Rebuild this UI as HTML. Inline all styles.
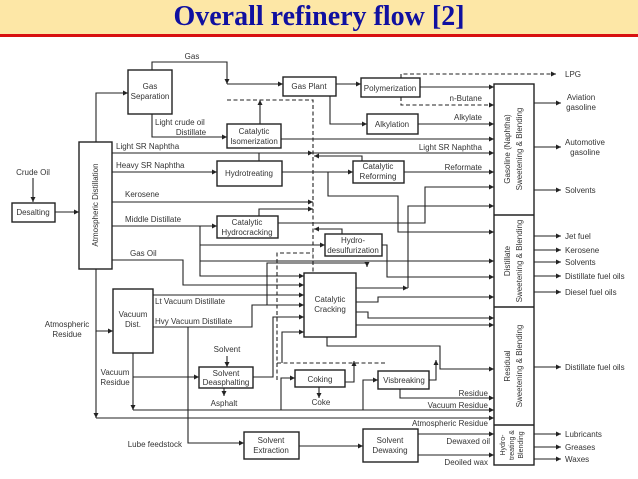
<!DOCTYPE html>
<html><head><meta charset="utf-8"><style>
html,body{margin:0;padding:0;background:#fff;}
body{width:638px;height:479px;overflow:hidden;position:relative;}
.hdr{position:absolute;left:0;top:0;width:638px;height:34px;background:#fde7a6;}
.hdr .t{position:absolute;left:0;width:638px;top:1px;text-align:center;font-family:"Liberation Serif",serif;font-weight:bold;font-size:28px;color:#1010a0;}
.red{position:absolute;left:0;top:34px;width:638px;height:3px;background:#d81010;}
svg{position:absolute;left:0;top:0;}
text{font-family:"Liberation Sans",sans-serif;font-size:8px;fill:#333;}
</style></head><body>
<div class="hdr"><div class="t">Overall refinery flow [2]</div></div>
<div class="red"></div>
<svg width="638" height="479" viewBox="0 0 638 479">
<defs><marker id="a" markerWidth="6" markerHeight="6" refX="5" refY="3" orient="auto" markerUnits="userSpaceOnUse"><path d="M0,0.5 L5,3 L0,5.5z" fill="#222"/></marker></defs>
<g fill="none" stroke="#222" stroke-width="1.1">
<rect x="128" y="70" width="44" height="44" stroke-width="1.4"/>
<rect x="283" y="77" width="53" height="19" stroke-width="1.4"/>
<rect x="361" y="78" width="59" height="19" stroke-width="1.4"/>
<rect x="367" y="114" width="51" height="20" stroke-width="1.4"/>
<rect x="227" y="124" width="54" height="24" stroke-width="1.4"/>
<rect x="217" y="161" width="65" height="25" stroke-width="1.4"/>
<rect x="353" y="161" width="51" height="22" stroke-width="1.4"/>
<rect x="217" y="216" width="61" height="22" stroke-width="1.4"/>
<rect x="325" y="234" width="57" height="22" stroke-width="1.4"/>
<rect x="304" y="273" width="52" height="64" stroke-width="1.4"/>
<rect x="79" y="142" width="33" height="127" stroke-width="1.4"/>
<rect x="12" y="203" width="43" height="19" stroke-width="1.4"/>
<rect x="113" y="289" width="40" height="64" stroke-width="1.4"/>
<rect x="199" y="367" width="54" height="21" stroke-width="1.4"/>
<rect x="295" y="370" width="50" height="17" stroke-width="1.4"/>
<rect x="378" y="371" width="51" height="18" stroke-width="1.4"/>
<rect x="244" y="432" width="55" height="27" stroke-width="1.4"/>
<rect x="363" y="429" width="55" height="33" stroke-width="1.4"/>
<rect x="494" y="84" width="40" height="381" stroke-width="1.4"/>
<line x1="494" y1="215" x2="534" y2="215" stroke-width="1.4"/>
<line x1="494" y1="307" x2="534" y2="307" stroke-width="1.4"/>
<line x1="494" y1="425" x2="534" y2="425" stroke-width="1.4"/>
</g>
<g fill="none" stroke="#222" stroke-width="1.1" marker-end="url(#a)">
<path d="M33,178 V202"/>
<path d="M55,212 H79"/>
<path d="M96,142 V93 H128"/>
<path d="M152,70 V62 H227 V84"/>
<path d="M227,84 H283"/>
<path d="M152,114 V137 H227"/>
<path d="M260,124 V100"/>
<path d="M336,84 H361"/>
<path d="M420,87 H494"/>
<path d="M330,96 V124 H367"/>
<path d="M418,124 H494"/>
<path d="M281,139 H494"/>
<path d="M112,153 H494"/>
<path d="M112,172 H217"/>
<path d="M259,161 V153 H313"/>
<path d="M282,172 H353"/>
<path d="M362,161 V156 H314"/>
<path d="M404,172 H494"/>
<path d="M328,172 V196 H398 V232 H494"/>
<path d="M112,202 H313"/>
<path d="M278,223 H425 V187 H494"/>
<path d="M408,288 V206 H494"/>
<path d="M112,226 H217"/>
<path d="M200,226 V276 H304"/>
<path d="M200,245 H325"/>
<path d="M259,216 V209 H313"/>
<path d="M342,234 V229 H314"/>
<path d="M200,261 H494"/>
<path d="M382,245 H387 V277 H494"/>
<path d="M112,260 H183 V285 H304"/>
<path d="M153,295 H304"/>
<path d="M153,327 H252 V305 H304"/>
<path d="M267,305 V263 H367 V267"/>
<path d="M253,377 H273 V317 H304"/>
<path d="M356,288 H408"/>
<path d="M356,302 H378 V297 H494"/>
<path d="M356,312 H368 V318 H494"/>
<path d="M356,325 H494"/>
<path d="M327,337 V346 H440 V369 H494"/>
<path d="M282,363 V332 H304"/>
<path d="M96,269 V331 H113"/>
<path d="M96,331 V418"/>
<path d="M96,418 H494"/>
<path d="M133,353 V410"/>
<path d="M133,377 H199"/>
<path d="M133,410 H494"/>
<path d="M227,356 V367"/>
<path d="M224,388 V396"/>
<path d="M188,327 V443 H244"/>
<path d="M299,446 H363"/>
<path d="M418,434 H494"/>
<path d="M418,455 H494"/>
<path d="M281,410 V378 H295"/>
<path d="M319,387 V398"/>
<path d="M363,410 V380 H378"/>
<path d="M400,389 V398 H494"/>
<path d="M345,382 H354 V361"/>
<path d="M429,380 H436 V360"/>
<path d="M534,103 H561"/>
<path d="M534,147 H561"/>
<path d="M534,190 H561"/>
<path d="M534,236 H561"/>
<path d="M534,250 H561"/>
<path d="M534,262 H561"/>
<path d="M534,276 H561"/>
<path d="M534,292 H561"/>
<path d="M534,367 H561"/>
<path d="M534,434 H561"/>
<path d="M534,447 H561"/>
<path d="M534,459 H561"/>
</g>
<g fill="none" stroke="#222" stroke-width="1.1" stroke-dasharray="4,2.5">
<path d="M227,100 H313 V273"/>
<path d="M401,78 V74 H556" marker-end="url(#a)"/>
<path d="M401,97 V105 H494" marker-end="url(#a)"/>
<path d="M277,380 V253 H313"/>
<path d="M277,363 H387"/>
</g>
<g>
<text x="192" y="59" text-anchor="middle">Gas</text>
<text x="150" y="89" text-anchor="middle">Gas</text>
<text x="150" y="99" text-anchor="middle">Separation</text>
<text x="309" y="89" text-anchor="middle">Gas Plant</text>
<text x="390" y="91" text-anchor="middle">Polymerization</text>
<text x="392" y="127" text-anchor="middle">Alkylation</text>
<text x="254" y="134" text-anchor="middle">Catalytic</text>
<text x="254" y="144" text-anchor="middle">Isomerization</text>
<text x="249" y="176" text-anchor="middle">Hydrotreating</text>
<text x="378" y="169" text-anchor="middle">Catalytic</text>
<text x="378" y="179" text-anchor="middle">Reforming</text>
<text x="247" y="225" text-anchor="middle">Catalytic</text>
<text x="247" y="235" text-anchor="middle">Hydrocracking</text>
<text x="353" y="243" text-anchor="middle">Hydro-</text>
<text x="353" y="253" text-anchor="middle">desulfurization</text>
<text x="330" y="302" text-anchor="middle">Catalytic</text>
<text x="330" y="312" text-anchor="middle">Cracking</text>
<text x="33" y="215" text-anchor="middle">Desalting</text>
<text x="33" y="175" text-anchor="middle">Crude Oil</text>
<text x="133" y="317" text-anchor="middle">Vacuum</text>
<text x="133" y="327" text-anchor="middle">Dist.</text>
<text x="226" y="376" text-anchor="middle">Solvent</text>
<text x="226" y="385" text-anchor="middle">Deasphalting</text>
<text x="320" y="382" text-anchor="middle">Coking</text>
<text x="404" y="383" text-anchor="middle">Visbreaking</text>
<text x="271" y="443" text-anchor="middle">Solvent</text>
<text x="271" y="453" text-anchor="middle">Extraction</text>
<text x="390" y="443" text-anchor="middle">Solvent</text>
<text x="390" y="453" text-anchor="middle">Dewaxing</text>
<text x="98" y="205" text-anchor="middle" transform="rotate(-90 98 205)">Atmospheric Distillation</text>
<text x="510" y="149" text-anchor="middle" transform="rotate(-90 510 149)">Gasoline (Naphtha)</text>
<text x="522" y="149" text-anchor="middle" transform="rotate(-90 522 149)">Sweetening &amp; Blending</text>
<text x="510" y="261" text-anchor="middle" transform="rotate(-90 510 261)">Distillate</text>
<text x="522" y="261" text-anchor="middle" transform="rotate(-90 522 261)">Sweetening &amp; Blending</text>
<text x="510" y="366" text-anchor="middle" transform="rotate(-90 510 366)">Residual</text>
<text x="522" y="366" text-anchor="middle" transform="rotate(-90 522 366)">Sweetening &amp; Blending</text>
<text x="505" y="445" text-anchor="middle" transform="rotate(-90 505 445)" style="font-size:7px">Hydro-</text>
<text x="514" y="445" text-anchor="middle" transform="rotate(-90 514 445)" style="font-size:7px">treating &amp;</text>
<text x="523" y="445" text-anchor="middle" transform="rotate(-90 523 445)" style="font-size:7px">Blending</text>
<text x="155" y="125">Light crude oil</text>
<text x="191" y="135" text-anchor="middle">Distillate</text>
<text x="116" y="149">Light SR Naphtha</text>
<text x="116" y="168">Heavy SR Naphtha</text>
<text x="125" y="197">Kerosene</text>
<text x="125" y="222">Middle Distillate</text>
<text x="130" y="256">Gas Oil</text>
<text x="155" y="304">Lt Vacuum Distillate</text>
<text x="155" y="324">Hvy Vacuum Distillate</text>
<text x="67" y="327" text-anchor="middle">Atmospheric</text>
<text x="67" y="337" text-anchor="middle">Residue</text>
<text x="115" y="375" text-anchor="middle">Vacuum</text>
<text x="115" y="385" text-anchor="middle">Residue</text>
<text x="227" y="352" text-anchor="middle">Solvent</text>
<text x="224" y="406" text-anchor="middle">Asphalt</text>
<text x="321" y="405" text-anchor="middle">Coke</text>
<text x="182" y="447" text-anchor="end">Lube feedstock</text>
<text x="482" y="101" text-anchor="end">n-Butane</text>
<text x="482" y="120" text-anchor="end">Alkylate</text>
<text x="482" y="150" text-anchor="end">Light SR Naphtha</text>
<text x="482" y="170" text-anchor="end">Reformate</text>
<text x="488" y="396" text-anchor="end">Residue</text>
<text x="488" y="408" text-anchor="end">Vacuum Residue</text>
<text x="488" y="426" text-anchor="end">Atmospheric Residue</text>
<text x="490" y="444" text-anchor="end">Dewaxed oil</text>
<text x="488" y="465" text-anchor="end">Deoiled wax</text>
<text x="565" y="77">LPG</text>
<text x="581" y="100" text-anchor="middle">Aviation</text>
<text x="581" y="110" text-anchor="middle">gasoline</text>
<text x="585" y="145" text-anchor="middle">Automotive</text>
<text x="585" y="155" text-anchor="middle">gasoline</text>
<text x="565" y="193">Solvents</text>
<text x="565" y="239">Jet fuel</text>
<text x="565" y="253">Kerosene</text>
<text x="565" y="265">Solvents</text>
<text x="565" y="279">Distillate fuel oils</text>
<text x="565" y="295">Diesel fuel oils</text>
<text x="565" y="370">Distillate fuel oils</text>
<text x="565" y="437">Lubricants</text>
<text x="565" y="450">Greases</text>
<text x="565" y="462">Waxes</text>
</g>
</svg>
</body></html>
